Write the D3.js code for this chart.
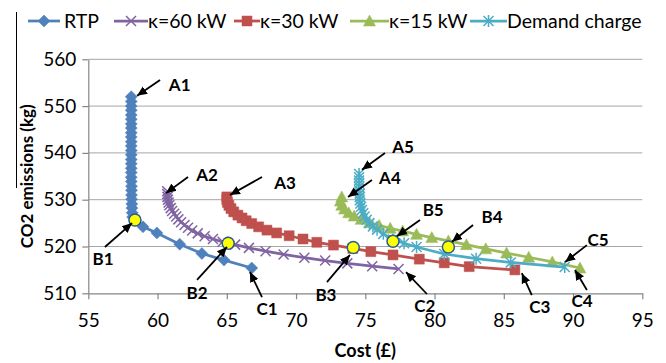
<!DOCTYPE html>
<html>
<head>
<meta charset="utf-8">
<script src="https://cdn.jsdelivr.net/npm/d3@7"></script>
<style>
  html, body { margin: 0; padding: 0; background: #fff; }
  svg { display: block; font-family: Lato, "Open Sans", sans-serif; }
</style>
</head>
<body>
<svg id="chart" width="666" height="363"></svg>
<script>
// ---- data (cost in £, CO2 in kg) ----
const xTicks = [55, 60, 65, 70, 75, 80, 85, 90, 95];
const yTicks = [510, 520, 530, 540, 550, 560];

const rtp = [
  [58.1, 552.0], [58.1, 551.0], [58.1, 550.0], [58.1, 549.1], [58.1, 548.1],
  [58.1, 547.2], [58.1, 546.2], [58.1, 545.3], [58.1, 544.3], [58.1, 543.4],
  [58.1, 542.4], [58.1, 541.5], [58.1, 540.5], [58.1, 539.6], [58.1, 538.6],
  [58.1, 537.7], [58.1, 536.7], [58.1, 535.8], [58.1, 534.8], [58.1, 533.9],
  [58.12, 532.9], [58.12, 532.0], [58.12, 531.0], [58.13, 530.1], [58.14, 529.1],
  [58.15, 528.2], [58.17, 527.2], [58.2, 526.3], [58.35, 525.6], [58.95, 524.2],
  [59.95, 522.9], [61.6, 520.5], [63.2, 518.5], [64.8, 517.1], [66.8, 515.4]
];

const k60 = [
  [60.7, 531.8], [60.7, 531.2], [60.72, 530.6], [60.75, 530.0], [60.8, 529.4],
  [60.85, 528.8], [60.95, 528.2], [61.05, 527.6], [61.2, 527.0], [61.35, 526.4],
  [61.5, 525.8], [61.7, 525.2], [61.95, 524.6], [62.2, 524.0], [62.5, 523.4],
  [62.9, 522.8], [63.4, 522.2], [64.0, 521.6], [64.7, 521.0], [65.6, 520.4],
  [66.6, 519.7], [67.8, 519.0], [69.1, 518.3], [70.6, 517.6], [72.1, 517.0],
  [73.7, 516.4], [75.5, 515.8], [77.4, 515.2]
];

const k30 = [
  [65.0, 530.6], [65.0, 530.0], [65.05, 529.4], [65.15, 528.8], [65.3, 528.1],
  [65.5, 527.4], [65.8, 526.7], [66.1, 526.1], [66.4, 525.5], [66.8, 524.9],
  [67.3, 524.2], [67.9, 523.5], [68.6, 522.9], [69.5, 522.3], [70.5, 521.6],
  [71.5, 520.9], [72.7, 520.3], [74.1, 519.6], [75.4, 518.9], [77.0, 518.2],
  [78.9, 517.3], [80.7, 516.5], [82.5, 515.7], [85.8, 515.0]
];

const k15 = [
  [73.3, 530.6], [73.2, 529.7], [73.3, 528.8], [73.5, 528.0], [73.8, 527.2],
  [74.2, 526.5], [74.7, 525.8], [75.3, 525.1], [76.0, 524.5], [76.8, 523.9],
  [77.7, 523.3], [78.7, 522.6], [79.8, 521.9], [81.0, 521.2], [82.3, 520.4],
  [83.7, 519.5], [85.2, 518.6], [86.8, 517.7], [88.5, 516.7], [90.5, 515.4]
];

const demand = [
  [74.55, 535.5], [74.55, 534.8], [74.55, 534.1], [74.55, 533.4], [74.55, 532.7],
  [74.55, 532.0], [74.6, 531.3], [74.6, 530.6], [74.6, 529.9], [74.65, 529.2],
  [74.7, 528.5], [74.75, 527.8], [74.85, 527.1], [74.95, 526.4], [75.1, 525.7],
  [75.3, 525.0], [75.55, 524.3], [75.85, 523.6], [76.3, 522.7], [77.0, 521.5],
  [77.8, 520.7], [78.7, 519.9], [80.7, 518.4], [83.0, 517.4], [85.5, 516.6],
  [89.4, 515.6]
];

// highlighted points B1..B5
const bPoints = [[58.37, 525.66], [65.1, 520.7], [74.13, 519.8], [81.0, 519.9], [77.0, 521.1]];

// annotations: label, label position, arrow start, arrow end (data units)
const notes = [
  { t: "A1", at: [61.6, 554.5], from: [60.18, 555.6], to: [58.52, 552.2] },
  { t: "A2", at: [63.57, 535.3], from: [62.2, 534.85], to: [60.61, 531.4] },
  { t: "A3", at: [69.2, 533.6], from: [67.54, 534.85], to: [65.23, 531.0] },
  { t: "A4", at: [76.78, 534.6], from: [75.48, 534.2], to: [73.75, 530.6] },
  { t: "A5", at: [77.72, 541.26], from: [76.42, 539.96], to: [74.76, 536.4] },
  { t: "B1", at: [56.06, 517.3], from: [56.2, 519.9], to: [58.16, 525.0] },
  { t: "B2", at: [62.85, 510.06], from: [62.85, 512.85], to: [65.01, 519.9] },
  { t: "B3", at: [72.16, 509.6], from: [72.23, 512.4], to: [73.89, 518.2] },
  { t: "B4", at: [84.15, 526.3], from: [82.78, 524.6], to: [81.26, 521.0] },
  { t: "B5", at: [79.9, 527.8], from: [78.95, 525.66], to: [77.29, 522.2] },
  { t: "C1", at: [67.9, 506.65], from: [67.54, 509.2], to: [66.67, 514.55] },
  { t: "C2", at: [79.3, 507.3], from: [79.45, 509.85], to: [77.94, 514.55] },
  { t: "C3", at: [87.6, 507.1], from: [87.02, 509.6], to: [86.3, 514.3] },
  { t: "C4", at: [90.65, 508.35], from: [91.0, 510.7], to: [90.14, 514.97] },
  { t: "C5", at: [91.8, 521.4], from: [91.0, 520.3], to: [89.43, 516.7] }
];

const series = [
  { name: "RTP", values: rtp, color: "#4F81BD", marker: "diamond" },
  { name: "\u03ba=60 kW", values: k60, color: "#8064A2", marker: "times" },
  { name: "\u03ba=30 kW", values: k30, color: "#C0504D", marker: "square" },
  { name: "\u03ba=15 kW", values: k15, color: "#9BBB59", marker: "triangle" },
  { name: "Demand charge", values: demand, color: "#4BACC6", marker: "asterisk" }
];

// ---- chart ----
const svg = d3.select("#chart");
const x = d3.scaleLinear().domain([55, 95]).range([88.3, 642.3]);
const y = d3.scaleLinear().domain([510, 560]).range([293.3, 59.3]);

// marker paths
function markerPath(type) {
  switch (type) {
    case "diamond": return "M0,-6L6,0L0,6L-6,0Z";
    case "square": return "M-5,-5H5V5H-5Z";
    case "triangle": return "M0,-6L6,5H-6Z";
    case "times": return "M-5,-5L5,5M-5,5L5,-5";
    case "asterisk": return "M-5,-5L5,5M-5,5L5,-5M0,-6V6";
  }
}
const stroked = (m) => m === "times" || m === "asterisk";

// frame artefact at left
svg.append("line")
  .attr("x1", 16.5).attr("x2", 16.5).attr("y1", 12).attr("y2", 188)
  .attr("stroke", "#000").attr("stroke-width", 1);

// gridlines
svg.append("g")
  .selectAll("line")
  .data(yTicks.filter((d) => d > 510))
  .join("line")
  .attr("x1", x(55)).attr("x2", x(95))
  .attr("y1", (d) => y(d)).attr("y2", (d) => y(d))
  .attr("stroke", "#a6a6a6").attr("stroke-width", 1);

// axes
const xAxisG = svg.append("g")
  .attr("transform", `translate(0,${y(510)})`)
  .call(d3.axisBottom(x).tickValues(xTicks).tickSize(6).tickPadding(14).tickSizeOuter(0).tickFormat(d3.format("d")));
const yAxisG = svg.append("g")
  .attr("transform", `translate(${x(55)},0)`)
  .call(d3.axisLeft(y).tickValues(yTicks).tickSize(6).tickPadding(6).tickSizeOuter(0).tickFormat(d3.format("d")));
[xAxisG, yAxisG].forEach((g) => {
  g.select(".domain").attr("stroke", "#868686").attr("stroke-width", 1.2);
  g.selectAll(".tick line").attr("stroke", "#868686").attr("stroke-width", 1.2);
  g.selectAll(".tick text").attr("fill", "#000").style("font-size", "19px").style("font-family", "Lato, sans-serif");
});

// axis titles
svg.append("text")
  .attr("x", (x(55) + x(95)) / 2).attr("y", 357)
  .attr("text-anchor", "middle")
  .style("font-size", "18px").style("font-weight", "bold")
  .text("Cost (\u00a3)");
svg.append("text")
  .attr("transform", `translate(33,${(y(510) + y(560)) / 2}) rotate(-90)`)
  .attr("text-anchor", "middle")
  .style("font-size", "17px").style("font-weight", "bold")
  .text("CO2 emissions (kg)");

// series
const line = d3.line().x((d) => x(d[0])).y((d) => y(d[1]));
series.forEach((s) => {
  const g = svg.append("g");
  g.append("path")
    .datum(s.values)
    .attr("fill", "none")
    .attr("stroke", s.color)
    .attr("stroke-width", 2.75)
    .attr("stroke-linejoin", "round")
    .attr("d", line);
  g.selectAll("path.mk")
    .data(s.values)
    .join("path")
    .attr("class", "mk")
    .attr("transform", (d) => `translate(${x(d[0])},${y(d[1])})`)
    .attr("d", markerPath(s.marker))
    .attr("fill", stroked(s.marker) ? "none" : s.color)
    .attr("stroke", s.color)
    .attr("stroke-width", stroked(s.marker) ? 1.5 : 0.5);
});

// B points
svg.append("g")
  .selectAll("circle")
  .data(bPoints)
  .join("circle")
  .attr("cx", (d) => x(d[0])).attr("cy", (d) => y(d[1]))
  .attr("r", 6)
  .attr("fill", "#ffff00")
  .attr("stroke", "#2a5d8f")
  .attr("stroke-width", 1.5);

// annotations
svg.append("defs").append("marker")
  .attr("id", "arrow")
  .attr("markerUnits", "userSpaceOnUse")
  .attr("markerWidth", 12).attr("markerHeight", 12)
  .attr("viewBox", "-10 -5 12 10")
  .attr("refX", 0).attr("refY", 0)
  .attr("orient", "auto")
  .append("path")
  .attr("d", "M-10,-4.5L0,0L-10,4.5Z")
  .attr("fill", "#000");

const ann = svg.append("g");
ann.selectAll("line")
  .data(notes)
  .join("line")
  .attr("x1", (d) => x(d.from[0])).attr("y1", (d) => y(d.from[1]))
  .attr("x2", (d) => x(d.to[0])).attr("y2", (d) => y(d.to[1]))
  .attr("stroke", "#000").attr("stroke-width", 1.8)
  .attr("marker-end", "url(#arrow)");
ann.selectAll("text")
  .data(notes)
  .join("text")
  .attr("x", (d) => x(d.at[0])).attr("y", (d) => y(d.at[1]))
  .attr("dy", "0.36em")
  .attr("text-anchor", "middle")
  .style("font-size", "17px").style("font-weight", "bold")
  .text((d) => d.t);

// legend
const legendLayout = [
  { lx: 28, lw: 32, tx: 64 },
  { lx: 114, lw: 34, tx: 148 },
  { lx: 234, lw: 26, tx: 260 },
  { lx: 350, lw: 39, tx: 389 },
  { lx: 470, lw: 37, tx: 507 }
];
const legend = svg.append("g").attr("transform", "translate(0,21)");
series.forEach((s, i) => {
  const L = legendLayout[i];
  legend.append("line")
    .attr("x1", L.lx).attr("x2", L.lx + L.lw)
    .attr("stroke", s.color).attr("stroke-width", 2.75);
  legend.append("path")
    .attr("transform", `translate(${L.lx + L.lw / 2},0)`)
    .attr("d", markerPath(s.marker))
    .attr("fill", stroked(s.marker) ? "none" : s.color)
    .attr("stroke", s.color)
    .attr("stroke-width", stroked(s.marker) ? 1.5 : 0.5);
  legend.append("text")
    .attr("x", L.tx).attr("dy", "0.35em")
    .style("font-size", "19.5px")
    .text(s.name);
});
</script>
</body>
</html>
